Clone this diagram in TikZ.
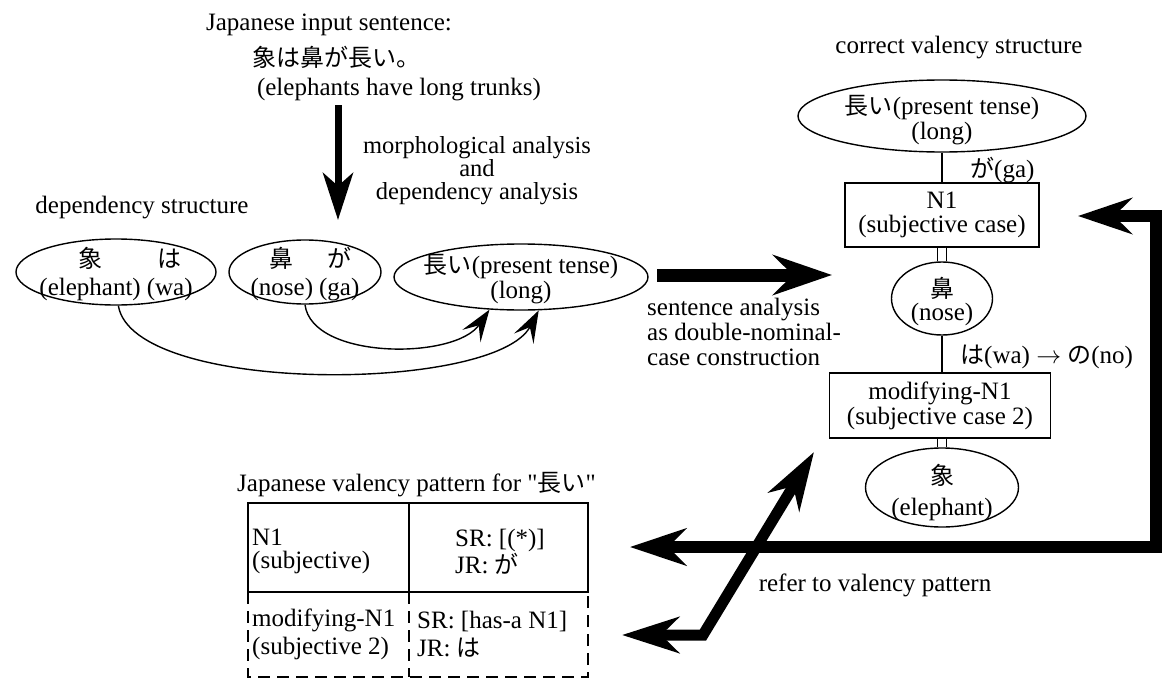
\documentclass[tikz,border=0pt]{standalone}
\usepackage{fontspec}
\setmainfont{Liberation Serif}
\newfontfamily\jpfont{Noto Sans CJK JP}
\font\qfont="Liberation Serif" at 25pt
\usetikzlibrary{arrows.meta,shapes.geometric}
\newcommand{\J}[1]{{\jpfont\fontsize{24}{28}\selectfont #1}}
\newcommand{\eonetxt}{\begin{tabular}{@{}c@{\hspace{6pt}}c@{}}\J{象}&\J{は}\\(elephant)&(wa)\end{tabular}}
\newcommand{\etwotxt}{\begin{tabular}{@{}c@{\hspace{6pt}}c@{}}\J{鼻}&\J{が}\\(nose)&(ga)\end{tabular}}
\newcommand{\longtxt}{\J{長い}(present tense)\\(long)}
\newcommand{\nosetxt}{\J{鼻}\\(nose)}
\newcommand{\elephtxt}{\J{象}\\(elephant)}
\begin{document}
\begin{tikzpicture}[x=1pt,y=-1pt,
  every node/.style={inner sep=0pt,font=\fontsize{25}{28}\selectfont},
  ln/.style={line width=1.4pt},
  ell/.style={draw,ellipse,line width=1.4pt},
  box/.style={draw,rectangle,line width=1.4pt,align=center},
  dsh/.style={line width=1.4pt,dash pattern=on 12pt off 7pt},
  thinarrow/.style={line width=1.4pt,-{Stealth[length=32pt,width=22pt,inset=13pt]}}]
\fill[white] (0,0) rectangle (1163,680);
\useasboundingbox (0,0) rectangle (1163,680);

% ---------- top texts ----------
\node (t1) at (329,25) {Japanese input sentence:};
\node (t2) at (336,57) {\J{象は鼻が長い。}};
\node (t3) at (399,90) {(elephants have long trunks)};
\coordinate (d1) at (338,105);
\coordinate (d2) at (338,220);
\draw[line width=7pt,-{Stealth[length=47pt,width=30pt,inset=13pt]}] (d1) -- (d2);
\node[align=center,font=\fontsize{24.5}{23}\selectfont] (t4) at (477,170.5) {morphological analysis\\and\\dependency analysis};
\node (t5) at (142,208) {dependency structure};

% ---------- dependency structure ----------
\node[ell,minimum width=200pt,minimum height=66pt,label={[yshift=-4pt]center:\eonetxt}] (e1) at (116,272) {};
\node[ell,minimum width=152pt,minimum height=64pt,label={[yshift=-4pt]center:\etwotxt}] (e2) at (305,272) {};
\node[ell,minimum width=254pt,minimum height=66pt,label={[align=center,font=\fontsize{25}{25}\selectfont,yshift=-2.5pt]center:\longtxt}] (e3) at (521,277) {};

\draw[thinarrow] (e2.south) .. controls (312,360) and (455,360) .. (e3.-134);
\draw[thinarrow] (e1.-86) .. controls (133,395) and (495,393) .. (e3.-62);

% sentence analysis arrow
\coordinate (s1) at (657,275);
\coordinate (s2) at (832,275);
\draw[line width=13pt,-{Stealth[length=59pt,width=40pt,inset=20pt]}] (s1) -- (s2);
\node[align=left,anchor=west,font=\fontsize{25}{25}\selectfont] (t6) at (647,332) {sentence analysis\\as double-nominal-\\case construction};

% ---------- correct valency structure ----------
\node (t7) at (959,48) {correct valency structure};
\node[ell,minimum width=288pt,minimum height=72pt,label={[align=center,font=\fontsize{25}{25}\selectfont,yshift=-4pt]center:\longtxt}] (top) at (942,116) {};
\node[box,minimum width=194pt,minimum height=64pt,font=\fontsize{25}{23.5}\selectfont] (n1) at (942,215) {N1\\(subjective case)};
\node[ell,minimum width=101pt,minimum height=73pt,label={[align=center,font=\fontsize{25}{23.5}\selectfont,yshift=-3pt]center:\nosetxt}] (nose) at (942,298.5) {};
\node[box,minimum width=221pt,minimum height=65pt,font=\fontsize{25}{25}\selectfont] (mod) at (940,405.5) {modifying-N1\\(subjective case 2)};
\node[ell,minimum width=153pt,minimum height=79pt,label={[align=center,font=\fontsize{25}{31}\selectfont,yshift=-5pt]center:\elephtxt}] (el) at (942,487.5) {};

\draw[ln] (top.south) -- (n1.north);
\node[anchor=west] (ga) at (970,170) {\J{が}(ga)};
\draw[line width=1.4pt,double,double distance=8pt] (n1.south) -- (nose.north);
\draw[ln] (nose.south) -- (nose.south |- mod.north);
\node[anchor=west] (wa) at (960,357) {\J{は}(wa) $\rightarrow$ \J{の}(no)};
\draw[line width=1.4pt,double,double distance=8pt] (el.north |- mod.south) -- (el.north);

% ---------- return arrow ----------
\coordinate (r1) at (1078,216);
\coordinate (r2) at (1156,216);
\coordinate (r3) at (1156,547);
\coordinate (r4) at (630,547);
\draw[line width=12pt,line join=miter,{Stealth[length=54pt,width=36pt,inset=18pt]}-{Stealth[length=56pt,width=37pt,inset=18pt]}] (r1) -- (r2) -- (r3) -- (r4);

% ---------- refer arrow ----------
\coordinate (f1) at (814,452);
\coordinate (f2) at (703,635);
\coordinate (f3) at (622,635);
\draw[line width=11pt,line join=miter,{Stealth[length=58pt,width=36pt,inset=18pt]}-{Stealth[length=57pt,width=36pt,inset=18pt]}] (f1) -- (f2) -- (f3);
\node (t8) at (875,585) {refer to valency pattern};

% ---------- valency pattern table ----------
\node[anchor=west] (t9) at (237,485) {Japanese valency pattern for {\qfont"}\J{長い}{\qfont"}};
\draw[ln] (248,503) rectangle (588,592);
\draw[ln] (409,503) -- (409,592);
\draw[dsh] (248,592) -- (248,677) -- (588,677) -- (588,592);
\draw[dsh] (409,592) -- (409,677);
\node[anchor=west,align=left,font=\fontsize{25}{23}\selectfont] (c1) at (252,551.5) {N1\\(subjective)};
\node[anchor=west,align=left,font=\fontsize{25}{23}\selectfont] (c2) at (455,551.5) {SR: [(*)]\\JR: \J{が}};
\node[anchor=west,align=left,font=\fontsize{25}{28}\selectfont] (c3) at (252,634) {modifying-N1\\(subjective 2)};
\node[anchor=west,align=left,font=\fontsize{25}{28}\selectfont] (c4) at (417,634) {SR: [has-a N1]\\JR: \J{は}};
\end{tikzpicture}
\end{document}
